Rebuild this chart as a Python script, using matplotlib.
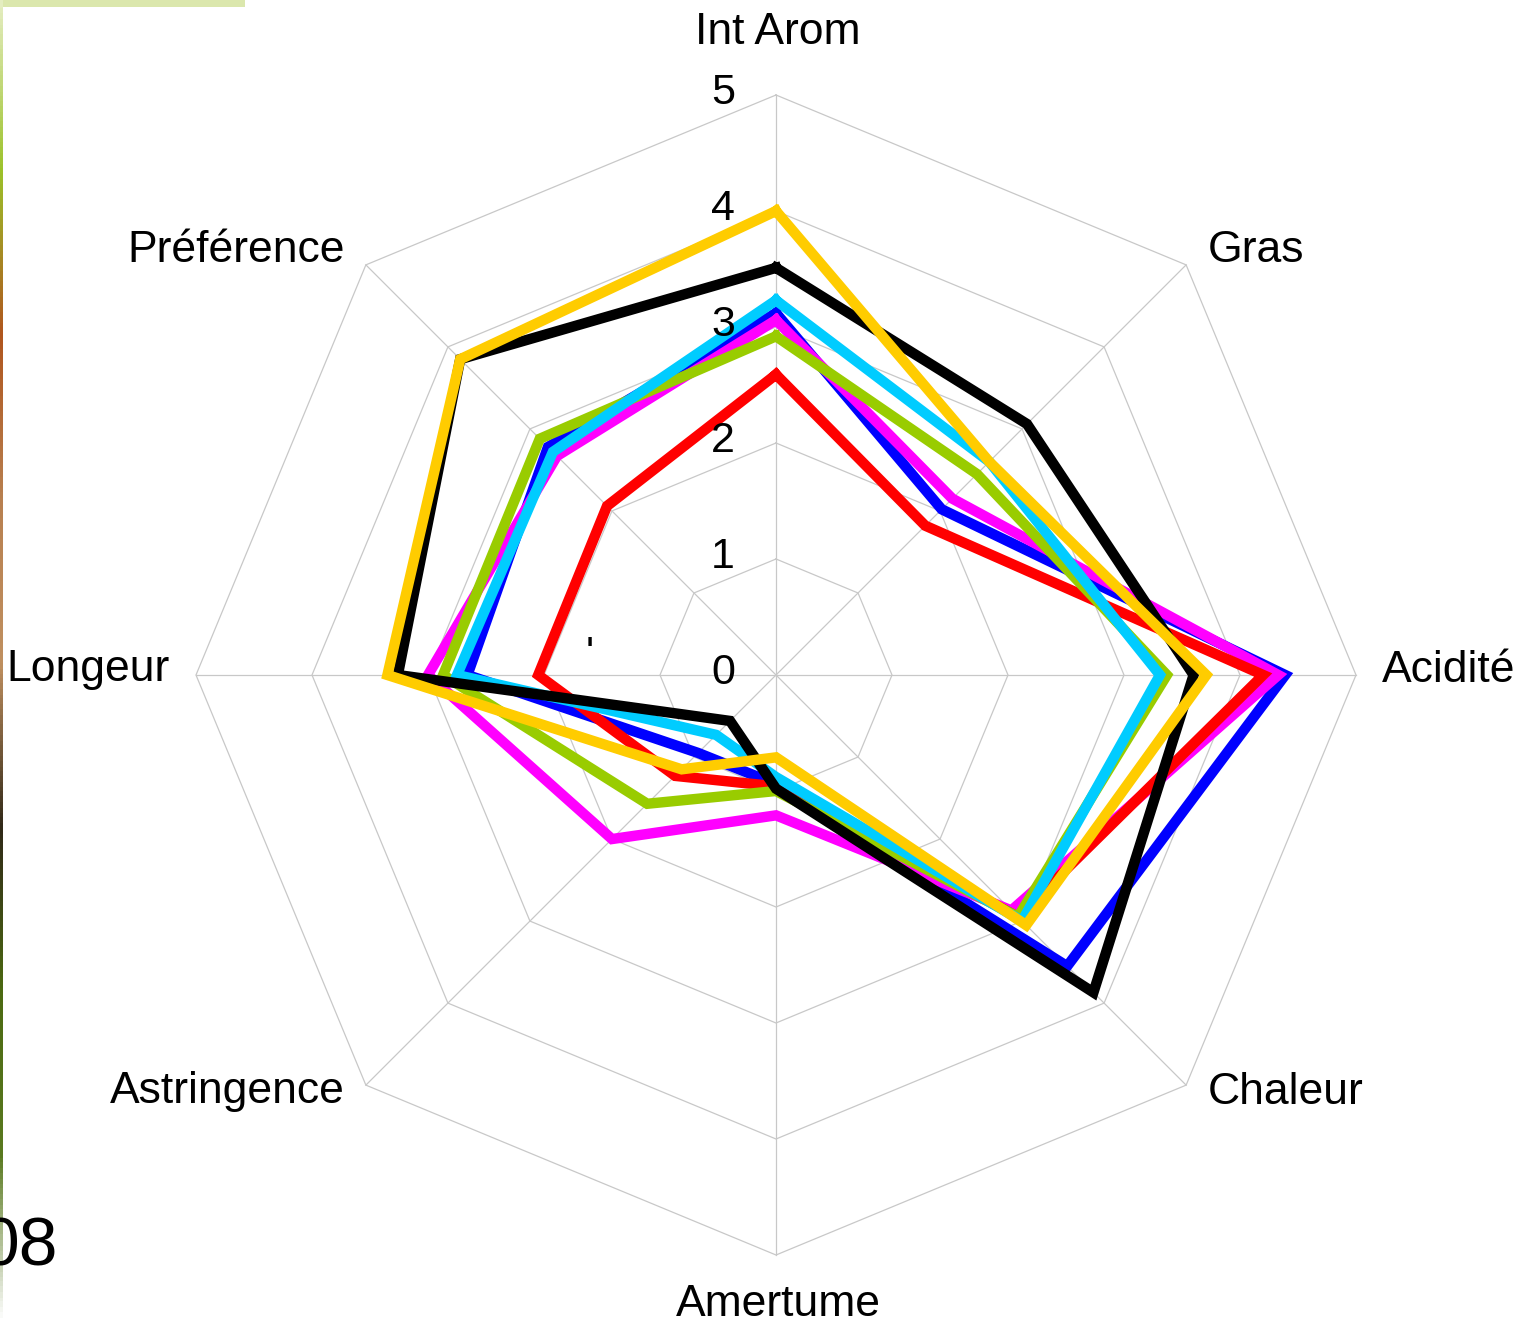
import numpy as np
import matplotlib
matplotlib.use('Agg')
import matplotlib.pyplot as plt
from matplotlib.colors import LinearSegmentedColormap

plt.rcParams['font.family'] = ['Liberation Sans', 'DejaVu Sans']

# Données
categories = ['Int Arom', 'Gras', 'Acidité', 'Chaleur', 'Amertume',
              'Astringence', 'Longeur', 'Préférence']
echelle = [0, 1, 2, 3, 4, 5]

bleu = [3.12, 2.02, 4.39, 3.55, 0.94, 0.95, 2.66, 2.78]
magenta = [3.06, 2.15, 4.33, 2.87, 1.21, 2.00, 3.00, 2.67]
rouge = [2.59, 1.82, 4.20, 2.95, 0.96, 1.23, 2.05, 2.06]
vert = [2.92, 2.45, 3.37, 2.95, 1.00, 1.57, 2.87, 2.88]
cyan = [3.23, 2.60, 3.31, 3.00, 0.88, 0.73, 2.75, 2.72]
noir = [3.51, 3.06, 3.60, 3.87, 0.98, 0.56, 3.26, 3.85]
jaune = [4.00, 2.60, 3.71, 3.05, 0.71, 1.15, 3.35, 3.85]

series = [
    (bleu, '#0000ff'),
    (magenta, '#ff00ff'),
    (rouge, '#ff0000'),
    (vert, '#99cc00'),
    (cyan, '#00ccff'),
    (noir, '#000000'),
    (jaune, '#ffcc00'),
]

W, H = 1521, 1326
fig = plt.figure(figsize=(W / 100, H / 100), dpi=100)
fig.patch.set_facecolor('white')

# axe polaire : centre (776, 675), rayon 580 px
cx, cy, R = 776, 675, 580
ax = fig.add_axes([(cx - R) / W, (H - cy - R) / H, 2 * R / W, 2 * R / H],
                  projection='polar')
ax.set_theta_offset(np.pi / 2)
ax.set_theta_direction(-1)
ax.set_ylim(0, 5)
ax.axis('off')

n = len(categories)
angles = np.linspace(0, 2 * np.pi, n, endpoint=False)
ang_ferme = np.append(angles, angles[0])

# grille octogonale
for r in echelle[1:]:
    ax.plot(ang_ferme, [r] * (n + 1), color='#c8c8c8', lw=0.9, clip_on=False, zorder=1)
for a in angles:
    ax.plot([a, a], [0, 5], color='#c8c8c8', lw=0.9, clip_on=False, zorder=1)

# séries
for i, (vals, col) in enumerate(series):
    ax.plot(ang_ferme, vals + vals[:1], color=col, lw=7.5,
            solid_joinstyle='miter', clip_on=False, zorder=3 + i)

# graduations
for r in echelle:
    ax.annotate(str(r), xy=(0, r), xytext=(-41, 2), textcoords='offset pixels',
                ha='right', va='center', fontsize=31, zorder=20)

# étiquettes des axes
pos_labels = {
    'Int Arom': (778, 32, 'center'),
    'Gras': (1208, 250, 'left'),
    'Acidité': (1382, 670, 'left'),
    'Chaleur': (1208, 1092, 'left'),
    'Amertume': (778, 1305, 'center'),
    'Astringence': (345, 1092, 'right'),
    'Longeur': (170, 670, 'right'),
    'Préférence': (345, 250, 'right'),
}
for cat in categories:
    x, y, ha = pos_labels[cat]
    fig.text(x / W, 1 - y / H, cat, ha=ha, va='center', fontsize=32)

# restes de la diapositive autour du graphique
bande = fig.add_axes([0, 1 - 7 / H, 245 / W, 7 / H])
bande.set_facecolor('#dbe7ad')
bande.set_xticks([])
bande.set_yticks([])
for s in bande.spines.values():
    s.set_visible(False)

degrade = LinearSegmentedColormap.from_list(
    'bord', ['#e4edc0', '#9cc22a', '#b0561e', '#b88050', '#c09060',
             '#302818', '#4c6a12', '#5a7a20', '#ffffff'])
bord = fig.add_axes([0, 0, 3 / W, 1])
bord.imshow(np.linspace(0, 1, 200).reshape(-1, 1), aspect='auto', cmap=degrade)
bord.axis('off')

fig.text(58 / W, 1 - 1248 / H, '08', ha='right', va='center', fontsize=50)
fig.text(590 / W, 1 - 655 / H, "'", ha='center', va='center', fontsize=30)

fig.savefig('out.png', dpi=100)
